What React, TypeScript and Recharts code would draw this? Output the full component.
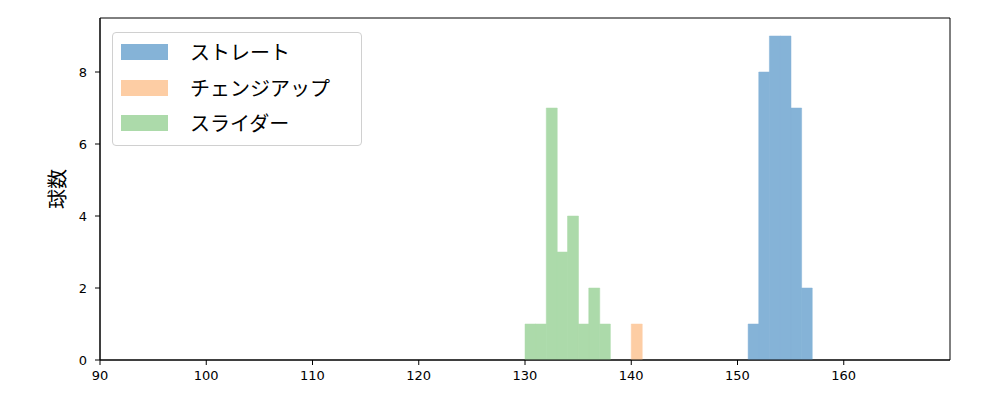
import {
  ComposedChart,
  Bar,
  XAxis,
  YAxis,
  ReferenceArea,
} from 'recharts';

// bin left edges and counts (bin width = 1 km/h)
const STRAIGHT_BINS = [151, 152, 153, 154, 155, 156];
const STRAIGHT_COUNTS = [1, 8, 9, 9, 7, 2];
const CHANGEUP_BINS = [140];
const CHANGEUP_COUNTS = [1];
const SLIDER_BINS = [130, 131, 132, 133, 134, 135, 136, 137];
const SLIDER_COUNTS = [1, 1, 7, 3, 4, 1, 2, 1];

const X_TICKS = [90, 100, 110, 120, 130, 140, 150, 160];
const Y_TICKS = [0, 2, 4, 6, 8];

const SERIES = [
  { key: 'straight', name: 'ストレート', color: '#85b3d7' },
  { key: 'changeup', name: 'チェンジアップ', color: '#fdcda4' },
  { key: 'slider', name: 'スライダー', color: '#acdaaa' },
];

type Row = { x: number; straight?: number; changeup?: number; slider?: number };

function buildRows(): Row[] {
  const map = new Map<number, Row>();
  const add = (bins: number[], counts: number[], key: 'straight' | 'changeup' | 'slider') => {
    bins.forEach((b, i) => {
      const x = b + 0.5;
      const row = map.get(x) ?? { x };
      row[key] = counts[i];
      map.set(x, row);
    });
  };
  add(STRAIGHT_BINS, STRAIGHT_COUNTS, 'straight');
  add(CHANGEUP_BINS, CHANGEUP_COUNTS, 'changeup');
  add(SLIDER_BINS, SLIDER_COUNTS, 'slider');
  return Array.from(map.values()).sort((a, b) => a.x - b.x);
}

const tickStyle = { fontSize: 13, fill: '#000', fontFamily: 'DejaVu Sans' };

export default function App() {
  const rows = buildRows();
  return (
    <div style={{ position: 'fixed', left: 0, top: 0, width: 1000, height: 400, background: '#fff' }}>
      <ComposedChart
        width={1000}
        height={400}
        data={rows}
        margin={{ top: 18, right: 50, left: 40, bottom: 10 }}
        barCategoryGap={0}
        barGap={0}
      >
        <XAxis
          dataKey="x"
          type="number"
          domain={[90, 170]}
          ticks={X_TICKS}
          allowDataOverflow
          tick={tickStyle}
          tickSize={5}
          tickMargin={6}
          axisLine={{ stroke: '#000' }}
          tickLine={{ stroke: '#000' }}
          height={30}
          interval={0}
        />
        <YAxis
          type="number"
          domain={[0, 9.5]}
          ticks={Y_TICKS}
          allowDataOverflow
          tick={tickStyle}
          tickSize={5}
          tickMargin={8}
          axisLine={{ stroke: '#000' }}
          tickLine={{ stroke: '#000' }}
          width={60}
          interval={0}
          label={{
            value: '球数',
            angle: -90,
            position: 'insideLeft',
            offset: 0,
            dx: 18,
            style: { fontSize: 20, fill: '#000', fontFamily: 'Noto Sans CJK JP', textAnchor: 'middle' },
          }}
        />
        {SERIES.map((s) => (
          <Bar
            key={s.key}
            dataKey={s.key}
            stackId="h"
            fill={s.color}
            stroke={s.color}
            strokeWidth={0.5}
            isAnimationActive={false}
          />
        ))}
        <ReferenceArea
          x1={90}
          x2={170}
          y1={0}
          y2={9.5}
          fill="none"
          fillOpacity={0}
          stroke="#000"
          strokeWidth={1}
          ifOverflow="visible"
        />
      </ComposedChart>
      <div
        style={{
          position: 'absolute',
          left: 112,
          top: 32,
          width: 248,
          height: 112,
          border: '1px solid #d0d0d0',
          borderRadius: 4,
          background: 'rgba(255,255,255,0.8)',
          fontFamily: 'Noto Sans CJK JP',
          fontSize: 20,
          color: '#000',
        }}
      >
        {SERIES.map((s, i) => (
          <div
            key={s.key}
            style={{ position: 'absolute', left: 8, top: 5 + i * 35.5, height: 28, display: 'flex', alignItems: 'center' }}
          >
            <span style={{ width: 47, height: 16, background: s.color, display: 'inline-block' }} />
            <span style={{ marginLeft: 22, lineHeight: '28px' }}>{s.name}</span>
          </div>
        ))}
      </div>
    </div>
  );
}
